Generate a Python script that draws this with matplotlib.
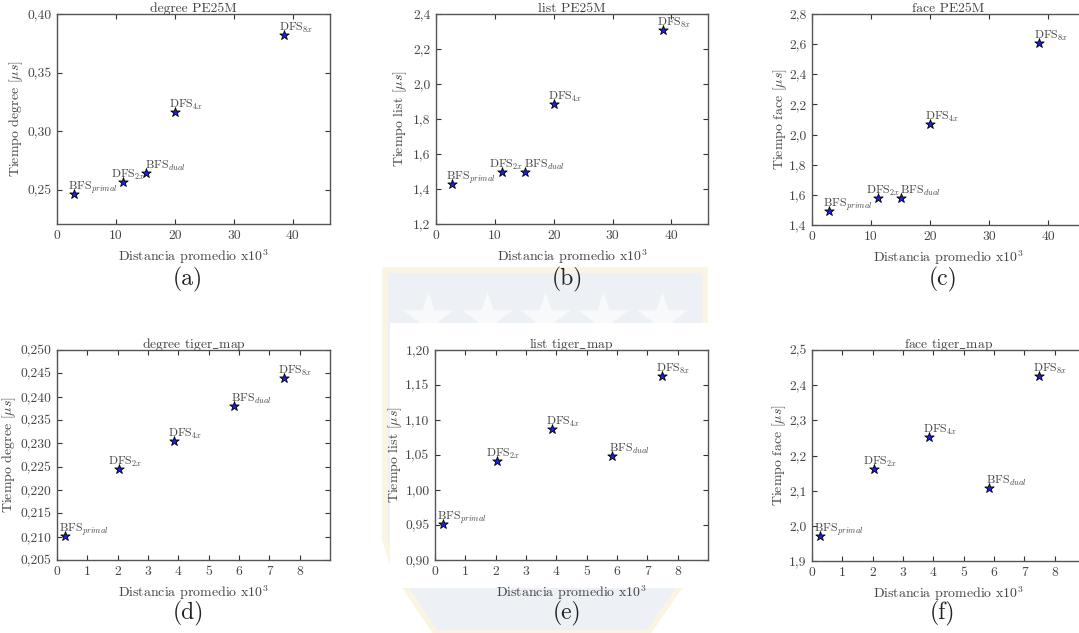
import matplotlib
matplotlib.use("Agg")
import matplotlib.pyplot as plt
from matplotlib.ticker import FixedLocator, FixedFormatter
from matplotlib.patches import Polygon, Rectangle

plt.rcParams['font.family'] = ['cmr10', 'DejaVu Serif']
plt.rcParams['mathtext.fontset'] = 'cm'
plt.rcParams['axes.unicode_minus'] = False

labels = ['BFS$_{primal}$', 'DFS$_{2x}$', 'BFS$_{dual}$', 'DFS$_{4x}$', 'DFS$_{8x}$']

# PE25M
dist_pe = [2.8, 11.2, 15.1, 20.0, 38.5]
degree_pe = [0.2466, 0.2570, 0.2645, 0.3164, 0.3818]
list_pe = [1.429, 1.497, 1.495, 1.887, 2.310]
face_pe = [1.495, 1.581, 1.581, 2.068, 2.605]

# tiger_map
dist_tm = [0.27, 2.03, 5.82, 3.86, 7.47]
degree_tm = [0.2101, 0.2244, 0.2381, 0.2306, 0.2439]
list_tm = [0.9514, 1.0419, 1.0486, 1.0867, 1.1629]
face_tm = [1.971, 2.1605, 2.1065, 2.253, 2.4265]

pe_xticks = [0, 10, 20, 30, 40]
tm_xticks = [0, 1, 2, 3, 4, 5, 6, 7, 8]
degree_pe_yticks = ['0,25', '0,30', '0,35', '0,40']
list_pe_yticks = ['1,2', '1,4', '1,6', '1,8', '2,0', '2,2', '2,4']
face_pe_yticks = ['1,4', '1,6', '1,8', '2,0', '2,2', '2,4', '2,6', '2,8']
degree_tm_yticks = ['0,205', '0,210', '0,215', '0,220', '0,225', '0,230',
                    '0,235', '0,240', '0,245', '0,250']
list_tm_yticks = ['0,90', '0,95', '1,00', '1,05', '1,10', '1,15', '1,20']
face_tm_yticks = ['1,9', '2,0', '2,1', '2,2', '2,3', '2,4', '2,5']

# label offsets (pixels) relative to each point, per dataset
pe_label_dx = [-6, -12.5, -1, -5.5, -5.5]
tm_label_dx = [-6, -11, -3, -6.5, -5.5]
label_dy = 4

W, H = 1079, 633
fig = plt.figure(figsize=(W / 100, H / 100), dpi=100)

TXT = '#444444'
EDGE = '#555555'

# ---- faint background watermark (decoration, pixel coordinates) ----
bg = fig.add_axes([0, 0, 1, 1], zorder=-10)
bg.set_xlim(0, W)
bg.set_ylim(H, 0)
bg.axis('off')
shield = [(385, 270), (705, 270), (705, 540), (692, 572), (676, 592), (648, 633),
          (436, 633), (408, 592), (394, 568), (385, 540)]
bg.add_patch(Polygon(shield, closed=True, facecolor='#edf1f6', edgecolor='#fcf4e2',
                     linewidth=4))
bg.scatter([428, 487, 545, 603, 662], [318, 318, 318, 318, 318], marker='*', s=1500,
           color='#f7f9fb', linewidths=0)
bg.add_patch(Rectangle((390, 323), 330, 265, facecolor='white', edgecolor='none'))

def px_axes(left, top, right, bottom):
    return fig.add_axes([left / W, 1 - bottom / H, (right - left) / W, (bottom - top) / H])

panels = [
    # box, x, y, title, ylabel, xlim, ylim, xticks, yticklabels, caption, cap_x, cap_y, ylabel_x(px), label dx
    ((57, 14, 330, 224), dist_pe, degree_pe, 'degree PE25M', 'Tiempo degree [$\\mu s$]',
     (0, 46.3), (0.221, 0.40), pe_xticks, degree_pe_yticks, '(a)', 188, 279, 18, pe_label_dx),
    ((436, 14, 708, 224), dist_pe, list_pe, 'list PE25M', 'Tiempo list [$\\mu s$]',
     (0, 46.2), (1.2, 2.4), pe_xticks, list_pe_yticks, '(b)', 567, 279, 402, pe_label_dx),
    ((812, 14, 1085, 225), dist_pe, face_pe, 'face PE25M', 'Tiempo face [$\\mu s$]',
     (0, 46.2), (1.4, 2.8), pe_xticks, face_pe_yticks, '(c)', 943, 279, 782, pe_label_dx),
    ((57, 350, 330, 560), dist_tm, degree_tm, 'degree tiger$\\_$map', 'Tiempo degree [$\\mu s$]',
     (0, 9), (0.205, 0.250), tm_xticks, degree_tm_yticks, '(d)', 188, 613, 11, tm_label_dx),
    ((435, 350, 708, 560), dist_tm, list_tm, 'list tiger$\\_$map', 'Tiempo list [$\\mu s$]',
     (0, 9), (0.90, 1.20), tm_xticks, list_tm_yticks, '(e)', 567, 613, 397, tm_label_dx),
    ((812, 350, 1085, 561), dist_tm, face_tm, 'face tiger$\\_$map', 'Tiempo face [$\\mu s$]',
     (0, 9), (1.9, 2.5), tm_xticks, face_tm_yticks, '(f)', 943, 613, 781, tm_label_dx),
]

for (box, xs, ys, title, ylabel, xlim, ylim, xt, ytl, cap, cx, cy, ylx, ldx) in panels:
    ax = px_axes(*box)
    ax.scatter(xs, ys, marker='*', s=50, facecolor='#1e1ee6', edgecolor='black',
               linewidths=0.6, zorder=3)
    for x, y, lab, dx in zip(xs, ys, labels, ldx):
        ax.annotate(lab, (x, y), xytext=(dx, label_dy), textcoords='offset pixels',
                    ha='left', va='baseline', fontsize=8.5, color=TXT)
    ax.set_xlim(*xlim)
    ax.set_ylim(*ylim)
    ax.xaxis.set_major_locator(FixedLocator(xt))
    ax.xaxis.set_major_formatter(FixedFormatter([str(v) for v in xt]))
    yvals = [float(s.replace(',', '.')) for s in ytl]
    ax.yaxis.set_major_locator(FixedLocator(yvals))
    ax.yaxis.set_major_formatter(FixedFormatter(ytl))
    ax.tick_params(direction='in', length=3.5, width=0.8, top=True, right=True,
                   labelsize=9.8, labelcolor=TXT, color='#333333', pad=4)
    for sp in ax.spines.values():
        sp.set_color(EDGE)
        sp.set_linewidth(1.0)
    ax.set_title(title, fontsize=9.8, color=TXT, pad=1.5)
    ax.set_xlabel('Distancia promedio x10$^3$', fontsize=10, color=TXT, labelpad=4)
    ax.set_ylabel(ylabel, fontsize=10, color=TXT)
    left, top, right, bottom = box
    ax.yaxis.set_label_coords((ylx + 7 - left) / (right - left), 0.5)
    fig.text(cx / W, 1 - cy / H, cap, ha='center', va='center', fontsize=17, color='#222222')

fig.savefig('out.png', dpi=100)
